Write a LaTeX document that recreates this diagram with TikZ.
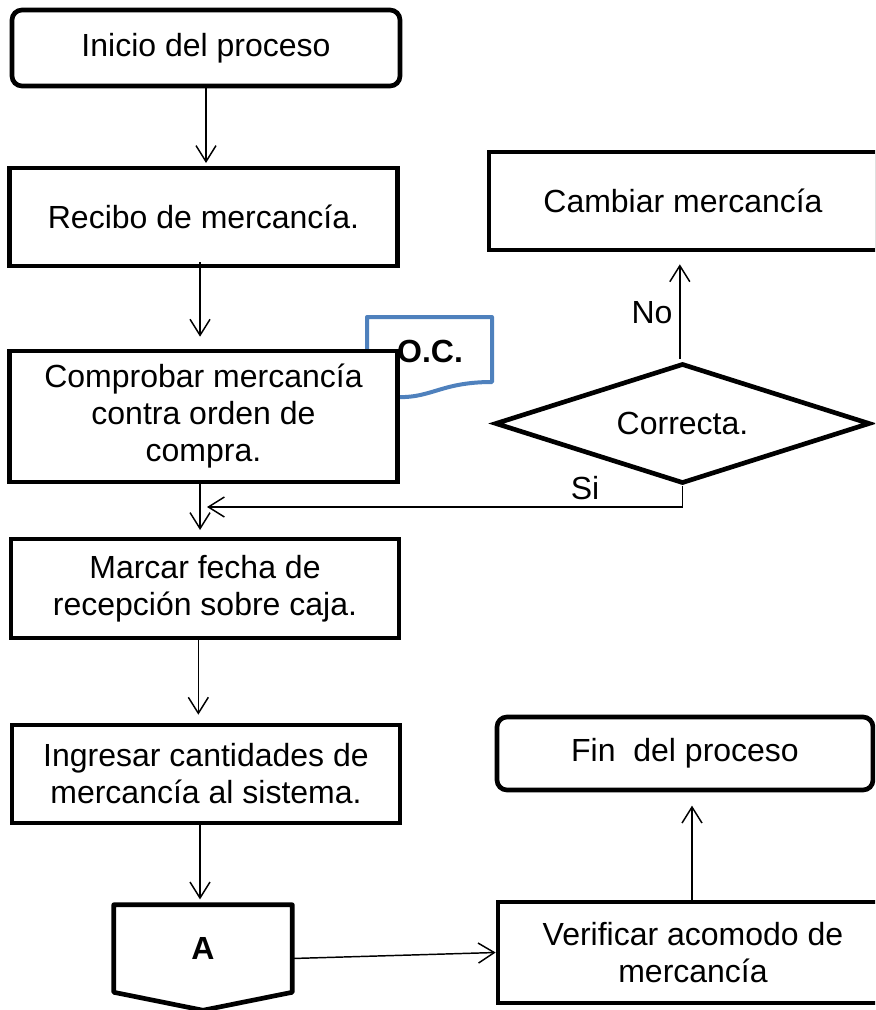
\documentclass[tikz,border=0pt]{standalone}
\usepackage{fontspec}
\setmainfont{Liberation Sans}
\usetikzlibrary{shapes.geometric,arrows.meta,calc,positioning}
\definecolor{docblue}{HTML}{4F81BD}

\begin{document}
\begin{tikzpicture}
    [x=7.5pt,y=7.5pt,
    font=\fontsize{24}{27.75}\selectfont,
    block/.style={
      rectangle,
      draw=black,
      line width=3.5pt,
      fill=white,
      align=center,
      minimum width=291pt,
      minimum height=73.5pt,
      inner sep=0pt
    },
    terminal/.style={
      block,
      rounded corners=7.5pt,
      minimum height=57pt
    },
    decision/.style={
      diamond,
      draw=black,
      line width=3.5pt,
      fill=white,
      aspect=3,
      minimum width=281.25pt,
      minimum height=90pt,
      inner sep=0pt
    },
    connector/.style={
      rectangle,
      minimum width=133.5pt,
      minimum height=65.25pt,
      font=\fontsize{24}{27.75}\selectfont\bfseries
    },
    doc/.style={
      draw=docblue,
      line width=3pt,
      line join=round,
      fill=white
    },
    line/.style={
      draw,
      line width=1.1pt,
      -{Straight Barb[length=12pt,width=15pt]}
    }
  ]
    \useasboundingbox (0,0) rectangle (87.5,-101);
    \clip (0,0) rectangle (87.5,-101);
    % left column
    \draw (20.6,-4.8) node[terminal] (A) {Inicio del proceso};
    \draw (20.35,-21.7) node[block] (B) {Recibo de mercancía.};
    % O.C. document, behind the check box
    \draw[doc] (36.7,-31.7) -- (49.2,-31.7) -- (49.2,-38.2)
        .. controls (42.95,-38.2) and (42.95,-40.67) .. (36.7,-39.3) -- cycle;
    \draw (20.35,-41.65) node[block, minimum height=98.25pt] (C) {Comprobar mercancía\\contra orden de\\compra.};
    \draw (43.0,-35.1) node[font=\fontsize{24}{27.75}\selectfont\bfseries] (K) {O.C.};
    \path (20.5,-58.85) node[block, minimum height=74.25pt] (D) {Marcar fecha de\\recepción sobre caja.}
          (20.6,-77.4) node[block] (E) {Ingresar cantidades de\\mercancía al sistema.}
          (20.3,-94.85) node[connector] (F) {A};
    \draw[line width=3.5pt, line join=round] (F.north west) -- (F.north east) -- (F.south east)
        -- ($(F.south)+(0,-1.8)$) -- (F.south west) -- cycle;
    % right column
    \path (68.3,-20.1) node[block] (I) {Cambiar mercancía}
          (68.25,-42.35) node[decision] (J) {Correcta.}
          (68.5,-75.35) node[terminal, minimum width=282pt, minimum height=54.75pt] (H) {Fin\ \ del proceso}
          (69.3,-95.25) node[block, minimum width=292.5pt, minimum height=75.75pt] (G) {Verificar acomodo de\\mercancía};
    % connectors
    \draw[line] (A.south) -- ([yshift=2pt]A.south |- B.north);
    \draw[line] ([xshift=-2.6pt,yshift=4.5pt]B.south) -- ([xshift=-2.6pt,yshift=9pt]B.south |- C.north);
    \draw[line] ([xshift=-2.6pt]C.south) -- ([xshift=-2.6pt,yshift=5pt]C.south |- D.north);
    \coordinate (M) at (20.7,-50.7);
    \draw[line] (J.south) |- (M);
        \draw (58.5,-48.8) node (LABEL2) {Si};
    \draw[line] ([xshift=-2pt,yshift=2pt]J.north) -- ([xshift=-2pt,yshift=-9pt]J.north |- I.south);
        \draw (65.2,-31.3) node (LABEL1) {No};
    \draw[line] ([xshift=-5pt]D.south) -- ([xshift=-5pt,yshift=6pt]D.south |- E.north);
    \draw[line] ([xshift=-4.5pt]E.south) -- ([xshift=-4.5pt,yshift=4pt]E.south |- F.north);
    \draw[line] ([yshift=-7.5pt]F.east) -- (G.west);
    \draw[line] ([xshift=-0.75pt]G.north) -- ([xshift=-0.75pt,yshift=-10pt]G.north |- H.south);
\end{tikzpicture}
\end{document}
